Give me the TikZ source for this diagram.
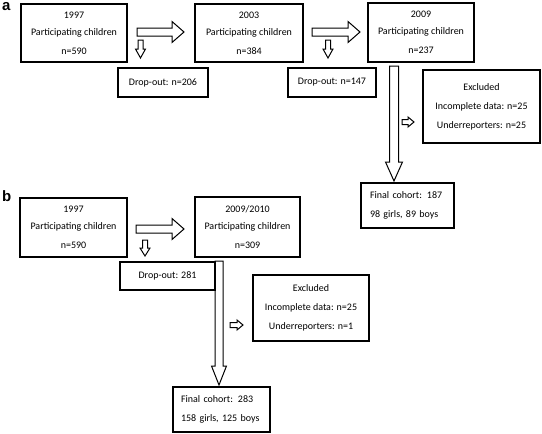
\documentclass[tikz,border=0pt]{standalone}
\usepackage{fontspec}
\setmainfont{Carlito}
\newfontfamily\panelfont{Liberation Sans}
\usetikzlibrary{calc, positioning}

% hollow block arrow: #1 start, #2 tip, #3 shaft half width, #4 head half width, #5 head length
\newcommand{\blockarr}[5]{%
  \coordinate (ba-base) at ($(#2)!#5!(#1)$);
  \draw[arrowline] ($(#1)!#3!90:(#2)$) -- ($(ba-base)!#3!90:(#2)$) -- ($(ba-base)!#4!90:(#2)$) -- (#2)
    -- ($(ba-base)!#4!-90:(#2)$) -- ($(ba-base)!#3!-90:(#2)$) -- ($(#1)!#3!-90:(#2)$) -- cycle;
}

\begin{document}
\begin{tikzpicture}[x=1pt, y=-1pt,
    box/.style={draw, line width=2pt, inner sep=0pt, align=center, font=\fontsize{10}{17}\selectfont},
    arrowline/.style={line width=1pt},
    panel/.style={inner sep=0pt, anchor=base west, font=\panelfont\bfseries\fontsize{15}{15}\selectfont}]
  \useasboundingbox (0,0) rectangle (542,434);

  % panel a
  \node[panel] (la) at (2,10.5) {a};
  \node[box, minimum width=106pt, minimum height=58pt] (a1997) at (74,33) {1997\\Participating children\\[2pt]n=590};
  \node[box, minimum width=108pt, minimum height=58pt] (a2003) at (249,33) {2003\\Participating children\\[2pt]n=384};
  \node[box, minimum width=106pt, minimum height=59pt] (a2009) at (421,32.5) {2009\\Participating children\\[2pt]n=237};
  \node[box, minimum width=90pt, minimum height=29pt] (adrop1) at (163,82.5) {Drop-out: n=206};
  \node[box, minimum width=88pt, minimum height=29pt] (adrop2) at (332,82.5) {Drop-out: n=147};
  \node[box, minimum width=117pt, minimum height=73pt] (aexcl) at (481.5,106.5) {Excluded\\[2pt]Incomplete data: n=25\\[2pt]Underreporters: n=25};
  \node[box, minimum width=93pt, minimum height=45pt, text width=75pt, align=left] (afinal) at (407.5,205.5) {Final cohort: 187\\[2pt]98 girls, 89 boys};

  \coordinate (a-r1s) at ($(a1997.east)+(9,-1)$);
  \coordinate (a-r1t) at ($(a2003.west)+(-10,-1)$);
  \coordinate (a-r2s) at ($(a2003.east)+(8,-1)$);
  \coordinate (a-r2t) at ($(a2009.west)+(-7,-0.5)$);
  \coordinate (a-d1s) at (140.5,40);
  \coordinate (a-d1t) at (140.5,58);
  \coordinate (a-d2s) at (328,40);
  \coordinate (a-d2t) at (328,58);
  \coordinate (a-lx) at (394,0);
  \coordinate (a-ls) at ($(a-lx |- a2009.south)+(0,3)$);
  \coordinate (a-lt) at ($(a-lx |- afinal.north)+(0,-1)$);
  \coordinate (a-es) at (402,122);
  \coordinate (a-et) at (414,122);

  \blockarr{a-r1s}{a-r1t}{4pt}{10.5pt}{12pt}
  \blockarr{a-r2s}{a-r2t}{4pt}{10.5pt}{12pt}
  \blockarr{a-d1s}{a-d1t}{2.5pt}{5pt}{9pt}
  \blockarr{a-d2s}{a-d2t}{2.5pt}{5pt}{9pt}
  \blockarr{a-ls}{a-lt}{4.5pt}{8.5pt}{19pt}
  \blockarr{a-es}{a-et}{2.5pt}{5pt}{6pt}

  % panel b
  \node[panel] (lb) at (2,201) {b};
  \node[box, minimum width=107pt, minimum height=59pt] (b1997) at (73.5,227.5) {1997\\Participating children\\[2pt]n=590};
  \node[box, minimum width=105pt, minimum height=60pt] (b2009) at (247.5,227) {2009/2010\\Participating children\\[2pt]n=309};
  \node[box, minimum width=95pt, minimum height=28pt] (bdrop) at (167.5,276) {Drop-out: 281};
  \node[box, minimum width=116pt, minimum height=66pt] (bexcl) at (311,308) {Excluded\\[2pt]Incomplete data: n=25\\[2pt]Underreporters: n=1};
  \node[box, minimum width=97pt, minimum height=45pt, text width=81pt, align=left] (bfinal) at (221.5,409.5) {Final cohort: 283\\[2pt]158 girls, 125 boys};

  \coordinate (b-rs) at ($(b1997.east)+(8,1.5)$);
  \coordinate (b-rt) at ($(b2009.west)+(-10,2)$);
  \coordinate (b-ds) at (145,240);
  \coordinate (b-dt) at (145,256);
  \coordinate (b-lx) at (219,0);
  \coordinate (b-ls) at ($(b-lx |- b2009.south)+(0,3)$);
  \coordinate (b-lt) at ($(b-lx |- bfinal.north)+(0,-1)$);
  \coordinate (b-es) at (230,325);
  \coordinate (b-et) at (243,325);

  \blockarr{b-rs}{b-rt}{4pt}{10.5pt}{12pt}
  \blockarr{b-ds}{b-dt}{2.5pt}{5pt}{8pt}
  \blockarr{b-ls}{b-lt}{4pt}{7.5pt}{19pt}
  \blockarr{b-es}{b-et}{2.5pt}{5pt}{6pt}
\end{tikzpicture}
\end{document}
